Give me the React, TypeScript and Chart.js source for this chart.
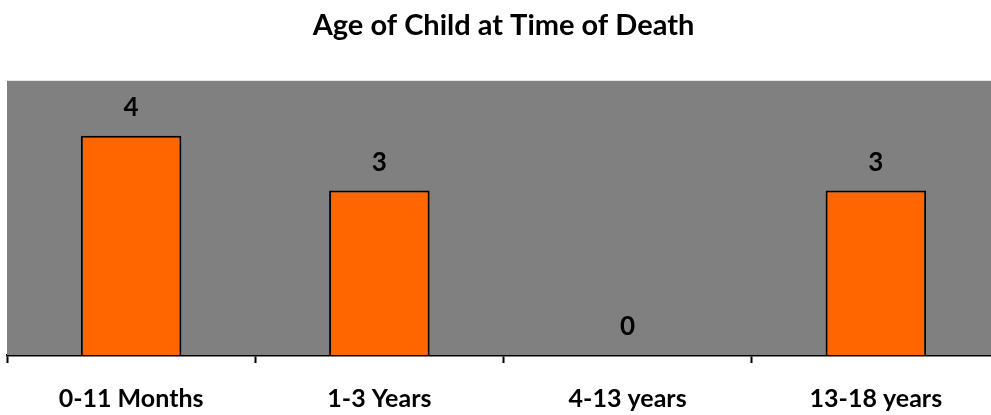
import React, { useEffect, useRef } from "react";
import { Chart, registerables } from "chart.js";

Chart.register(...registerables);

const categories = ["0-11 Months", "1-3 Years", "4-13 years", "13-18 years"];
const deaths = [4, 3, 0, 3];
const yMax = 5;

const FONT = "Lato, 'Open Sans', sans-serif";

// Gray plot background behind the bars
const plotBackground = {
  id: "plotBackground",
  beforeDatasetsDraw(chart: any) {
    const { ctx, chartArea } = chart;
    ctx.save();
    ctx.fillStyle = "#808080";
    ctx.fillRect(chartArea.left, chartArea.top, chartArea.right - chartArea.left, chartArea.bottom - chartArea.top);
    ctx.restore();
  },
};

// Value labels above each bar
const valueLabels = {
  id: "valueLabels",
  afterDatasetsDraw(chart: any) {
    const { ctx } = chart;
    const meta = chart.getDatasetMeta(0);
    ctx.save();
    ctx.font = `bold 26px ${FONT}`;
    ctx.fillStyle = "#000000";
    ctx.textAlign = "center";
    ctx.textBaseline = "middle";
    meta.data.forEach((bar: any, i: number) => {
      ctx.fillText(String(deaths[i]), bar.x, bar.y - 28);
    });
    ctx.restore();
  },
};

export default function App() {
  const canvasRef = useRef<HTMLCanvasElement | null>(null);

  useEffect(() => {
    if (!canvasRef.current) return;
    const chart = new Chart(canvasRef.current, {
      type: "bar",
      data: {
        labels: categories,
        datasets: [
          {
            data: deaths,
            backgroundColor: "#FF6600",
            borderColor: "#000000",
            borderWidth: 2,
            barPercentage: 0.405,
            categoryPercentage: 1,
          },
        ],
      },
      options: {
        animation: false,
        responsive: false,
        maintainAspectRatio: false,
        layout: { padding: { left: 7, right: 10, top: 0, bottom: 2 } },
        plugins: {
          legend: { display: false },
          tooltip: { enabled: false },
          title: {
            display: true,
            text: "Age of Child at Time of Death",
            color: "#000000",
            font: { family: FONT, size: 29, weight: "bold" },
            padding: { top: 8, bottom: 38 },
          },
        },
        scales: {
          x: {
            afterFit(scale: any) {
              scale.height = 58;
            },
            grid: {
              display: true,
              drawOnChartArea: false,
              drawTicks: true,
              tickLength: 8,
              tickWidth: 2,
              tickColor: "#000000",
              offset: true,
            },
            border: { display: true, color: "#000000", width: 2.5 },
            ticks: {
              color: "#000000",
              font: { family: FONT, size: 25, weight: "bold" },
              padding: 21,
              maxRotation: 0,
            },
          },
          y: {
            display: false,
            min: 0,
            max: yMax,
          },
        },
      },
      plugins: [plotBackground, valueLabels],
    });
    return () => chart.destroy();
  }, []);

  return (
    <div style={{ position: "absolute", left: 0, top: 0, width: 991, height: 415, overflow: "hidden", background: "#ffffff" }}>
      <canvas ref={canvasRef} width={1010} height={415} style={{ display: "block" }} />
    </div>
  );
}
